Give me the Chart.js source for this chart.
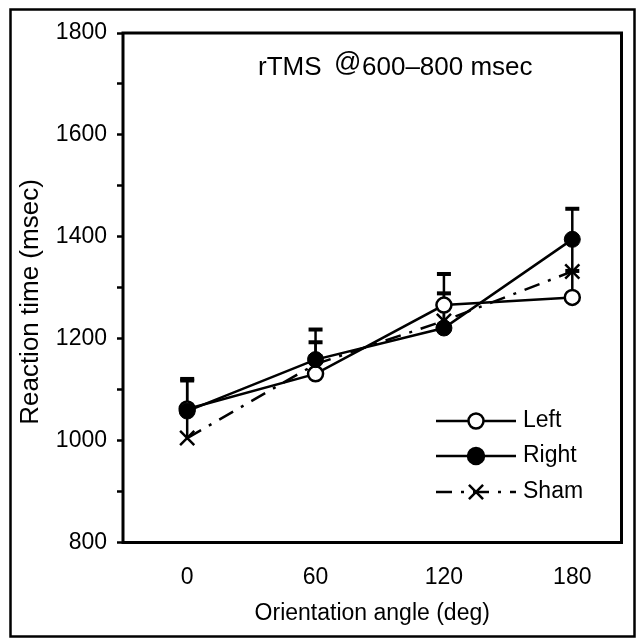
<!DOCTYPE html>
<html>
<head>
<meta charset="utf-8">
<script src="https://cdn.jsdelivr.net/npm/chart.js@4.4.1/dist/chart.umd.min.js"></script>
<style>
  body { margin: 0; background: #fff; }
  canvas { display: block; }
</style>
</head>
<body>
<canvas id="rtChart" width="639" height="643"></canvas>
<script>
// === DATA ===
const angles = [0, 60, 120, 180];
const leftRT = [1062, 1131, 1266, 1281];
const rightRT = [1058, 1159, 1221, 1395];
const shamRT = [1005, 1150, 1235, 1332];
// upper end of the error bars
const leftErr = [1118, 1193, 1327, 1333];
const rightErr = [1121, 1218, 1289, 1455];
const shamErr = [1065, 1165, 1262, 1398];
const xTicks = [0, 60, 120, 180];
const seriesNames = ['Left', 'Right', 'Sham'];

const FONT = "'Liberation Sans', Arial, Helvetica, sans-serif";
Chart.defaults.font.family = FONT;
Chart.defaults.font.size = 23;
Chart.defaults.color = '#000';

const pts = vals => angles.map((a, i) => ({ x: a, y: vals[i] }));

// === ERROR BARS (upper only) ===
const errorBars = {
  id: 'errorBars',
  beforeDatasetsDraw(chart) {
    const { ctx, scales: { x, y } } = chart;
    const sets = [[shamRT, shamErr], [leftRT, leftErr], [rightRT, rightErr]];
    ctx.save();
    ctx.strokeStyle = '#000';
    ctx.fillStyle = '#000';
    ctx.lineWidth = 2.5;
    sets.forEach(([vals, errs]) => {
      angles.forEach((a, i) => {
        const px = x.getPixelForValue(a);
        const p0 = y.getPixelForValue(vals[i]);
        const p1 = y.getPixelForValue(errs[i]);
        ctx.beginPath();
        ctx.moveTo(px, p0);
        ctx.lineTo(px, p1);
        ctx.stroke();
        ctx.fillRect(px - 7, p1 - 2, 14, 4);
      });
    });
    ctx.restore();
  }
};

// === FRAME, PLOT BOX, TITLES, LEGEND ===
const decorations = {
  id: 'decorations',
  afterDraw(chart) {
    const { ctx, chartArea: ca } = chart;
    ctx.save();
    ctx.strokeStyle = '#000';
    // outer frame
    ctx.lineWidth = 2.5;
    ctx.strokeRect(10.5, 9.5, 624, 627);
    // plot box
    ctx.lineWidth = 3;
    ctx.strokeRect(ca.left, ca.top, ca.right - ca.left, ca.bottom - ca.top);

    // y axis title
    ctx.fillStyle = '#000';
    ctx.save();
    ctx.translate(31, 302);
    ctx.rotate(-Math.PI / 2);
    ctx.font = '26px ' + FONT;
    ctx.textAlign = 'center';
    ctx.textBaseline = 'middle';
    ctx.fillText('Reaction time (msec)', 0, 0);
    ctx.restore();

    // title inside plot
    ctx.textBaseline = 'alphabetic';
    ctx.textAlign = 'left';
    const ty = 75;
    ctx.font = '26px ' + FONT;
    ctx.fillText('rTMS', 258, ty);
    ctx.font = '27px ' + FONT;
    ctx.fillText('@', 334, ty - 4);
    ctx.font = '26px ' + FONT;
    ctx.fillText('600\u2013800 msec', 362, ty);

    // legend
    const rows = [421, 456, 492];
    const x0 = 436, x1 = 516, xm = 476;
    ctx.font = '23px ' + FONT;
    ctx.textBaseline = 'middle';
    chart.data.datasets.forEach((ds, i) => {
      const ry = rows[i];
      ctx.lineWidth = 2.5;
      ctx.setLineDash(ds.borderDash || []);
      ctx.beginPath();
      ctx.moveTo(x0, ry);
      ctx.lineTo(x1, ry);
      ctx.stroke();
      ctx.setLineDash([]);
      if (ds.pointStyle === 'crossRot') {
        const r = ds.pointRadius * Math.SQRT1_2;
        ctx.beginPath();
        ctx.moveTo(xm - r, ry - r); ctx.lineTo(xm + r, ry + r);
        ctx.moveTo(xm - r, ry + r); ctx.lineTo(xm + r, ry - r);
        ctx.stroke();
      } else {
        ctx.beginPath();
        ctx.arc(xm, ry, ds.pointRadius, 0, Math.PI * 2);
        ctx.fillStyle = ds.pointBackgroundColor;
        ctx.fill();
        ctx.stroke();
      }
      ctx.fillStyle = '#000';
      ctx.fillText(ds.label, 523, ry);
    });
    ctx.restore();
  }
};

new Chart(document.getElementById('rtChart'), {
  type: 'line',
  data: {
    datasets: [{
      label: seriesNames[0],
      data: pts(leftRT),
      borderColor: '#000',
      borderWidth: 2.5,
      pointStyle: 'circle',
      pointRadius: 7.5,
      pointBackgroundColor: '#fff',
      pointBorderColor: '#000',
      pointBorderWidth: 2.5,
      order: 1
    }, {
      label: seriesNames[1],
      data: pts(rightRT),
      borderColor: '#000',
      borderWidth: 2.5,
      pointStyle: 'circle',
      pointRadius: 8,
      pointBackgroundColor: '#000',
      pointBorderColor: '#000',
      pointBorderWidth: 1,
      order: 0
    }, {
      label: seriesNames[2],
      data: pts(shamRT),
      borderColor: '#000',
      borderWidth: 2.5,
      borderDash: [16, 9, 3, 9],
      pointStyle: 'crossRot',
      pointRadius: 10,
      pointBorderColor: '#000',
      pointBorderWidth: 2.5,
      order: 2
    }]
  },
  options: {
    responsive: false,
    animation: false,
    layout: { padding: { top: 33, right: 17.5, left: 0, bottom: 0 } },
    plugins: { legend: { display: false }, tooltip: { enabled: false } },
    scales: {
      x: {
        type: 'linear',
        min: -30,
        max: 203,
        afterBuildTicks: s => { s.ticks = xTicks.map(v => ({ value: v })); },
        afterFit: s => { s.height = 100.5; },
        grid: { display: false },
        border: { display: false },
        ticks: { padding: 13, font: { size: 23 }, color: '#000' },
        title: {
          display: true,
          text: 'Orientation angle (deg)',
          font: { size: 23 },
          color: '#000',
          padding: { top: 0, bottom: 16 }
        }
      },
      y: {
        min: 800,
        max: 1800,
        afterFit: s => { s.width = 123; },
        grid: { drawOnChartArea: false, tickLength: 6, tickWidth: 2.5, color: '#000' },
        border: { display: false },
        ticks: {
          stepSize: 100,
          autoSkip: false,
          padding: 10,
          color: '#000',
          font: { size: 23 },
          callback: v => (v % 200 === 0 ? v : '')
        },
        title: { display: false }
      }
    }
  },
  plugins: [errorBars, decorations]
});
</script>
</body>
</html>
